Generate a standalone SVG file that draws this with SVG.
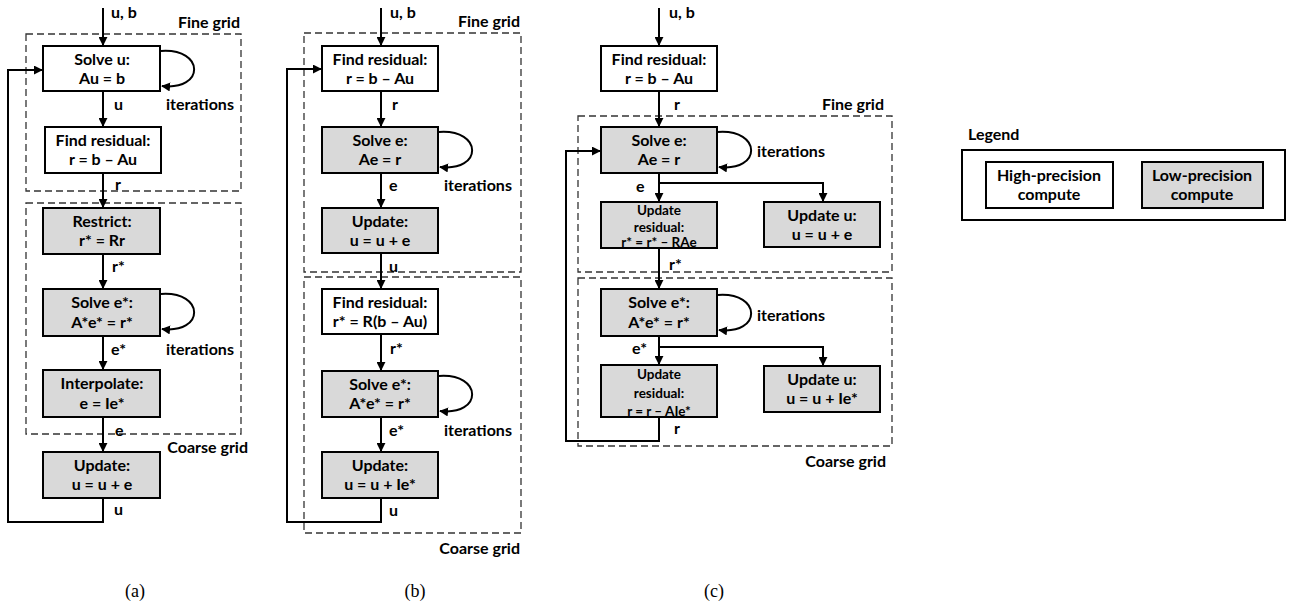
<svg xmlns="http://www.w3.org/2000/svg" width="1289" height="610" viewBox="0 0 1289 610">
<defs>
<marker id="ah" viewBox="0 0 10 10" refX="9" refY="5" markerWidth="9" markerHeight="9" markerUnits="userSpaceOnUse" orient="auto">
<path d="M0,0 L10,5 L0,10 z" fill="#000"/>
</marker>
<style>
.box{stroke:#000;stroke-width:2;fill:#fff}
.lp{fill:#d9d9d9}
.grid{fill:none;stroke:#333;stroke-width:1.3;stroke-dasharray:7,4}
.c{fill:none;stroke:#000;stroke-width:2}
text{font-family:Lato,"Open Sans","Liberation Sans",sans-serif;font-weight:bold;font-size:16px;fill:#000}
.m{text-anchor:middle}
.s{font-size:13.5px}
.cap{font-family:"Liberation Serif","Times New Roman",serif;font-weight:normal;font-size:18px}
</style>
</defs>
<rect width="1289" height="610" fill="#fff"/>

<!-- grid regions -->
<g id="grids">
<rect class="grid" x="26" y="34" width="215" height="157"/>
<text x="240" y="28" text-anchor="end">Fine grid</text>
<rect class="grid" x="26" y="203" width="215" height="231"/>
<text x="248" y="453" text-anchor="end">Coarse grid</text>
<rect class="grid" x="304" y="33" width="217" height="239"/>
<text x="520" y="27" text-anchor="end">Fine grid</text>
<rect class="grid" x="304" y="277" width="217" height="256"/>
<text x="520" y="554" text-anchor="end">Coarse grid</text>
<rect class="grid" x="578" y="116" width="314" height="156"/>
<text x="884" y="110" text-anchor="end">Fine grid</text>
<rect class="grid" x="578" y="278" width="314" height="168"/>
<text x="886" y="467" text-anchor="end">Coarse grid</text>
</g>

<!-- connectors -->
<g id="connectors">
<!-- (a) -->
<path class="c" d="M103,8 V45" marker-end="url(#ah)"/>
<path class="c" d="M103,92 V126" marker-end="url(#ah)"/>
<path class="c" d="M103,174 V207" marker-end="url(#ah)"/>
<path class="c" d="M103,255 V288" marker-end="url(#ah)"/>
<path class="c" d="M103,337 V369" marker-end="url(#ah)"/>
<path class="c" d="M103,418 V451" marker-end="url(#ah)"/>
<path class="c" d="M103,499 V522 H8 V70 H42" marker-end="url(#ah)"/>
<path class="c" d="M161,51 C205,48 205,91 162,86" marker-end="url(#ah)"/>
<path class="c" d="M161,294 C205,291 205,334 162,329" marker-end="url(#ah)"/>
<!-- (b) -->
<path class="c" d="M381,8 V45" marker-end="url(#ah)"/>
<path class="c" d="M381,92 V126" marker-end="url(#ah)"/>
<path class="c" d="M381,174 V207" marker-end="url(#ah)"/>
<path class="c" d="M381,254 V288" marker-end="url(#ah)"/>
<path class="c" d="M381,335 V370" marker-end="url(#ah)"/>
<path class="c" d="M381,418 V451" marker-end="url(#ah)"/>
<path class="c" d="M381,499 V522 H287 V69 H321" marker-end="url(#ah)"/>
<path class="c" d="M439,132 C483,129 483,172 440,167" marker-end="url(#ah)"/>
<path class="c" d="M439,376 C483,373 483,416 440,411" marker-end="url(#ah)"/>
<!-- (c) -->
<path class="c" d="M659,8 V45" marker-end="url(#ah)"/>
<path class="c" d="M659,92 V126" marker-end="url(#ah)"/>
<path class="c" d="M659,174 V201" marker-end="url(#ah)"/>
<path class="c" d="M659,183 H823 V201" marker-end="url(#ah)"/>
<path class="c" d="M659,249 V288" marker-end="url(#ah)"/>
<path class="c" d="M659,337 V364" marker-end="url(#ah)"/>
<path class="c" d="M659,347 H823 V365" marker-end="url(#ah)"/>
<path class="c" d="M659,418 V441 H566 V151 H600" marker-end="url(#ah)"/>
<path class="c" d="M718,132 C762,129 762,172 719,167" marker-end="url(#ah)"/>
<path class="c" d="M718,295 C762,292 762,335 719,330" marker-end="url(#ah)"/>
</g>

<g id="labels">
<text x="111" y="18">u, b</text>
<text x="114" y="110">u</text>
<text x="166" y="110">iterations</text>
<text x="115" y="190">r</text>
<text x="112" y="272">r*</text>
<text x="111" y="355">e*</text>
<text x="166" y="355">iterations</text>
<text x="115" y="436">e</text>
<text x="114" y="515">u</text>
<text x="390" y="18">u, b</text>
<text x="392" y="110">r</text>
<text x="389" y="191">e</text>
<text x="444" y="191">iterations</text>
<text x="389" y="272">u</text>
<text x="390" y="354">r*</text>
<text x="389" y="436">e*</text>
<text x="444" y="436">iterations</text>
<text x="389" y="516">u</text>
<text x="669" y="18">u, b</text>
<text x="674" y="110">r</text>
<text x="636" y="192">e</text>
<text x="757" y="157">iterations</text>
<text x="669" y="270">r*</text>
<text x="632" y="354">e*</text>
<text x="757" y="321">iterations</text>
<text x="674" y="434">r</text>
<text class="cap m" x="135" y="597">(a)</text>
<text class="cap m" x="415" y="597">(b)</text>
<text class="cap m" x="714" y="597">(c)</text>
</g>

<!-- (a) nodes -->
<g id="a-solve-u"><rect class="box" x="43" y="46" width="117" height="45"/><text class="m" x="102" y="65">Solve u:</text><text class="m" x="102" y="84">Au = b</text></g>
<g id="a-find-residual"><rect class="box" x="45" y="127" width="116" height="46"/><text class="m" x="103" y="146">Find residual:</text><text class="m" x="103" y="165">r = b – Au</text></g>
<g id="a-restrict"><rect class="box lp" x="43" y="208" width="117" height="46"/><text class="m" x="102" y="227">Restrict:</text><text class="m" x="102" y="246">r* = Rr</text></g>
<g id="a-solve-e"><rect class="box lp" x="43" y="289" width="117" height="47"/><text class="m" x="102" y="308">Solve e*:</text><text class="m" x="102" y="328">A*e* = r*</text></g>
<g id="a-interpolate"><rect class="box lp" x="43" y="370" width="117" height="47"/><text class="m" x="102" y="389">Interpolate:</text><text class="m" x="102" y="409">e = Ie*</text></g>
<g id="a-update"><rect class="box lp" x="43" y="452" width="117" height="46"/><text class="m" x="102" y="471">Update:</text><text class="m" x="102" y="490">u = u + e</text></g>

<!-- (b) nodes -->
<g id="b-find-residual"><rect class="box" x="322" y="46" width="116" height="45"/><text class="m" x="380" y="65">Find residual:</text><text class="m" x="380" y="84">r = b – Au</text></g>
<g id="b-solve-e"><rect class="box lp" x="322" y="127" width="116" height="46"/><text class="m" x="380" y="146">Solve e:</text><text class="m" x="380" y="165">Ae = r</text></g>
<g id="b-update"><rect class="box lp" x="322" y="208" width="116" height="45"/><text class="m" x="380" y="227">Update:</text><text class="m" x="380" y="246">u = u + e</text></g>
<g id="b-find-residual2"><rect class="box" x="322" y="289" width="116" height="45"/><text class="m" x="380" y="308">Find residual:</text><text class="m" x="380" y="327">r* = R(b – Au)</text></g>
<g id="b-solve-e2"><rect class="box lp" x="322" y="371" width="116" height="46"/><text class="m" x="380" y="390">Solve e*:</text><text class="m" x="380" y="409">A*e* = r*</text></g>
<g id="b-update2"><rect class="box lp" x="322" y="452" width="116" height="46"/><text class="m" x="380" y="471">Update:</text><text class="m" x="380" y="490">u = u + Ie*</text></g>

<!-- (c) nodes -->
<g id="c-find-residual"><rect class="box" x="601" y="46" width="116" height="45"/><text class="m" x="659" y="65">Find residual:</text><text class="m" x="659" y="84">r = b – Au</text></g>
<g id="c-solve-e"><rect class="box lp" x="601" y="127" width="116" height="46"/><text class="m" x="659" y="146">Solve e:</text><text class="m" x="659" y="165">Ae = r</text></g>
<g id="c-update-residual"><rect class="box lp" x="601" y="202" width="116" height="46"/><text class="m s" x="659" y="215">Update</text><text class="m s" x="659" y="232">residual:</text><text class="m s" x="659" y="247">r* = r* – RAe</text></g>
<g id="c-update-u"><rect class="box lp" x="764" y="202" width="116" height="45"/><text class="m" x="822" y="221">Update u:</text><text class="m" x="822" y="240">u = u + e</text></g>
<g id="c-solve-e2"><rect class="box lp" x="601" y="289" width="116" height="47"/><text class="m" x="659" y="308">Solve e*:</text><text class="m" x="659" y="328">A*e* = r*</text></g>
<g id="c-update-residual2"><rect class="box lp" x="601" y="365" width="116" height="52"/><text class="m s" x="659" y="379">Update</text><text class="m s" x="659" y="398">residual:</text><text class="m s" x="659" y="416">r = r – AIe*</text></g>
<g id="c-update-u2"><rect class="box lp" x="764" y="366" width="116" height="46"/><text class="m" x="822" y="385">Update u:</text><text class="m" x="822" y="404">u = u + Ie*</text></g>

<!-- legend -->
<g id="legend">
<text x="968" y="140">Legend</text>
<rect x="962" y="150" width="323" height="70" fill="none" stroke="#000" stroke-width="2"/>
<rect class="box" x="986" y="162" width="127" height="46"/>
<text class="m" x="1049" y="181">High-precision</text><text class="m" x="1049" y="200">compute</text>
<rect class="box lp" x="1142" y="162" width="121" height="46"/>
<text class="m" x="1202" y="181">Low-precision</text><text class="m" x="1202" y="200">compute</text>
</g>
</svg>
